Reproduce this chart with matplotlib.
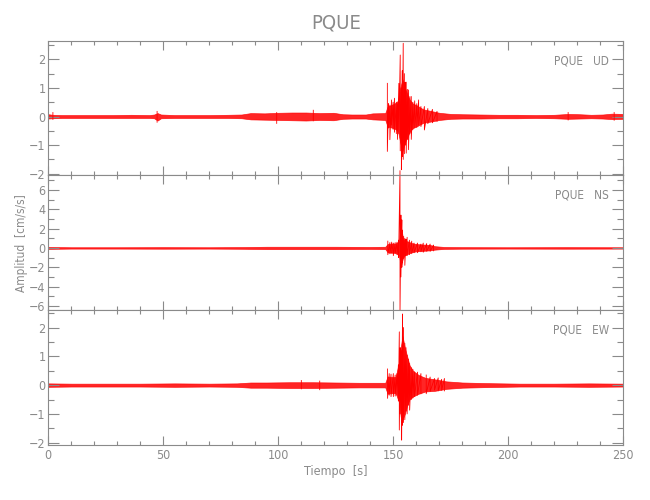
import matplotlib
matplotlib.use("Agg")
import matplotlib.pyplot as plt
from matplotlib import font_manager
from matplotlib.ticker import MultipleLocator

# narrow font if one is installed, to get close to the thin IDL lettering
narrow = [f for f in font_manager.fontManager.ttflist
          if ('Narrow' in f.fname or 'Condensed' in f.fname) and f.style == 'normal'
          and f.weight in (400, 'normal', 'regular')]
if narrow:
    plt.rcParams['font.family'] = [narrow[0].name, 'DejaVu Sans']
    plt.rcParams['font.stretch'] = narrow[0].stretch
    fs = 9
else:
    plt.rcParams['font.family'] = ['Liberation Sans', 'DejaVu Sans']
    fs = 8.5

"---------------------------------- DATA (read off the picture) ----------------------------------"
# envelope (body) of each trace: time [s], upper and lower amplitude [cm/s/s]
t_ud = [0, 2, 6, 12, 20, 28, 36, 44, 46, 47.5, 49, 55, 62, 70, 78, 84, 88, 94, 100, 106, 112, 118,
        124, 128, 132, 138, 141, 146.5, 147.5, 149, 150.5, 152, 153, 154, 155, 156, 157, 158.5, 160,
        163, 166, 170, 175, 180, 188, 196, 204, 212, 220, 226, 231, 236, 241, 245, 250]
hi_ud = [0.08, 0.06, 0.05, 0.05, 0.05, 0.05, 0.06, 0.05, 0.07, 0.12, 0.07, 0.05, 0.05, 0.05, 0.06,
         0.07, 0.12, 0.11, 0.13, 0.14, 0.14, 0.12, 0.13, 0.08, 0.07, 0.07, 0.11, 0.12, 0.35, 0.40,
         0.45, 0.55, 1.00, 1.30, 1.00, 0.80, 0.60, 0.45, 0.40, 0.25, 0.20, 0.13, 0.09, 0.08, 0.07,
         0.06, 0.06, 0.05, 0.06, 0.09, 0.08, 0.06, 0.07, 0.10, 0.09]
lo_ud = [-0.07, -0.06, -0.05, -0.05, -0.05, -0.05, -0.05, -0.05, -0.06, -0.14, -0.06, -0.05, -0.05,
         -0.05, -0.05, -0.06, -0.10, -0.11, -0.12, -0.13, -0.14, -0.12, -0.13, -0.08, -0.07, -0.07,
         -0.10, -0.12, -0.35, -0.38, -0.42, -0.50, -0.90, -1.20, -0.90, -0.75, -0.55, -0.40, -0.35,
         -0.22, -0.18, -0.12, -0.08, -0.07, -0.07, -0.06, -0.06, -0.05, -0.06, -0.08, -0.07, -0.06,
         -0.07, -0.09, -0.08]
# swings of the trace that stick out of the body: time, top, bottom
spk_t_ud = [2, 47.3, 99.3, 115.2,
            147.4, 147.9, 148.5, 149.2, 149.9, 150.5, 151.3, 151.8, 152.4, 153.0, 153.5, 153.9, 154.3,
            154.8, 155.2, 155.6, 156.1, 156.6, 157.2, 157.8, 158.5, 159.3, 160.2, 161, 162, 163.5,
            165, 167, 169,
            226, 246]
spk_hi_ud = [0.14, 0.18, 0.14, 0.22,
             1.16, 0.45, 0.40, 0.58, 0.50, 0.64, 0.50, 0.45, 1.16, 2.15, 1.00, 1.60, 2.56,
             1.50, 1.20, 1.20, 0.95, 0.93, 0.70, 0.70, 0.50, 0.55, 0.45, 0.58, 0.35, 0.35,
             0.28, 0.25, 0.18,
             0.14, 0.14]
spk_lo_ud = [-0.10, -0.20, -0.24, -0.15,
             -1.22, -0.40, -0.81, -0.30, -0.45, -0.55, -0.60, -0.80, -0.60, -1.20, -1.86, -1.40,
             -1.50, -1.30, -1.00, -1.28, -0.80, -1.16, -0.60, -0.80, -0.45, -0.40, -0.38, -0.30,
             -0.35, -0.47, -0.25, -0.22, -0.17,
             -0.12, -0.13]

t_ns = [0, 10, 30, 50, 70, 85, 95, 110, 125, 140, 146.5, 147.5, 149, 151, 152.5, 153, 153.5, 154.2,
        155, 156.5, 158, 160, 163, 166, 168, 172, 180, 200, 225, 250]
hi_ns = [0.10, 0.07, 0.07, 0.08, 0.07, 0.09, 0.12, 0.12, 0.12, 0.10, 0.12, 0.40, 0.45, 0.45, 0.70,
         1.80, 2.00, 1.00, 0.75, 0.65, 0.50, 0.40, 0.35, 0.30, 0.18, 0.10, 0.08, 0.07, 0.08, 0.07]
lo_ns = [-0.10, -0.07, -0.07, -0.08, -0.07, -0.09, -0.12, -0.12, -0.12, -0.10, -0.12, -0.45, -0.50,
         -0.50, -0.80, -1.50, -1.70, -1.00, -0.75, -0.60, -0.45, -0.35, -0.30, -0.25, -0.18, -0.10,
         -0.08, -0.07, -0.08, -0.07]
spk_t_ns = [147.6, 148.5, 149.3, 150, 150.8, 151.6, 152.3, 152.9, 153.3, 153.7, 154.0, 154.5, 155.0,
            155.5, 156, 157, 158, 159, 160.5, 162, 163, 164.5, 166, 167.5]
spk_hi_ns = [0.70, 0.55, 0.60, 0.50, 0.55, 0.60, 0.80, 8.00, 3.40, 2.90, 1.80, 1.20, 1.00,
             0.90, 1.10, 0.80, 0.70, 0.50, 0.50, 0.40, 0.50, 0.45, 0.40, 0.30]
spk_lo_ns = [-0.70, -0.60, -0.50, -0.80, -0.60, -0.70, -1.00, -6.90, -3.00, -2.00, -1.50, -1.10,
             -1.80, -0.80, -0.80, -0.70, -0.60, -0.50, -0.50, -0.40, -0.45, -0.35, -0.35, -0.30]

t_ew = [0, 10, 25, 40, 55, 70, 82, 88, 95, 105, 115, 125, 135, 142, 146.5, 147.5, 149, 151, 152.5,
        153.2, 154, 155, 156, 157, 158.5, 161, 164, 168, 173, 180, 190, 205, 220, 235, 250]
hi_ew = [0.06, 0.05, 0.05, 0.05, 0.06, 0.05, 0.06, 0.09, 0.09, 0.10, 0.10, 0.09, 0.08, 0.08, 0.08,
         0.30, 0.28, 0.28, 0.80, 1.30, 1.70, 1.30, 1.00, 0.70, 0.50, 0.35, 0.25, 0.20, 0.13, 0.09,
         0.07, 0.05, 0.05, 0.06, 0.05]
lo_ew = [-0.06, -0.05, -0.05, -0.05, -0.06, -0.05, -0.06, -0.09, -0.09, -0.10, -0.10, -0.09, -0.08,
         -0.08, -0.08, -0.30, -0.28, -0.28, -0.60, -1.10, -1.20, -1.00, -0.70, -0.50, -0.40, -0.30,
         -0.22, -0.20, -0.13, -0.09, -0.07, -0.05, -0.05, -0.06, -0.05]
spk_t_ew = [110, 118,
            147.5, 148.2, 149, 150, 150.8, 151.6, 152.2, 152.6, 153.0, 153.6, 154.0, 154.4, 155.0,
            155.5, 156.0, 156.6, 157.1, 157.8, 158.5, 159.2, 160.5, 162, 164.3, 166, 167.9, 169.5,
            171, 172.2]
spk_hi_ew = [0.16, 0.14,
             0.56, 0.40, 0.38, 0.40, 0.35, 0.40, 0.70, 1.85, 1.30, 1.20, 2.47, 2.00, 1.45,
             1.30, 1.04, 0.90, 0.75, 0.60, 0.55, 0.46, 0.45, 0.40, 0.35, 0.28, 0.23, 0.25,
             0.20, 0.23]
spk_lo_ew = [-0.13, -0.16,
             -0.46, -0.35, -0.40, -0.40, -0.38, -0.35, -0.55, -1.56, -1.00, -1.91, -1.40, -1.30,
             -1.20, -0.90, -1.00, -0.70, -0.87, -0.50, -0.45, -0.40, -0.35, -0.30, -0.30, -0.22,
             -0.17, -0.20, -0.18, -0.20]

channels = ['PQUE   UD', 'PQUE   NS', 'PQUE   EW']
ylims = [(-2.06, 2.65), (-6.45, 7.5), (-2.08, 2.6)]
y_major = [1, 2, 1]
y_minor = [0.5, 1, 0.5]

"------------------------------------------- PLOT -------------------------------------------"
gray = '#8a8a8a'
fig, axs = plt.subplots(3, 1, sharex=True, figsize=(6.5, 5), dpi=100)
fig.subplots_adjust(left=0.0743, right=0.959, top=0.9186, bottom=0.11, hspace=0)

traces = [(t_ud, hi_ud, lo_ud, spk_t_ud, spk_hi_ud, spk_lo_ud),
          (t_ns, hi_ns, lo_ns, spk_t_ns, spk_hi_ns, spk_lo_ns),
          (t_ew, hi_ew, lo_ew, spk_t_ew, spk_hi_ew, spk_lo_ew)]

for i, ax in enumerate(axs):
    t, hi, lo, st, shi, slo = traces[i]
    # body of the trace
    ax.fill_between(t, lo, hi, color='red', alpha=0.85, lw=0.5)
    # trace swings: up, down, on to the next one; a gap breaks the line
    xs, ys = [], []
    prev = None
    for tk, h, l in zip(st, shi, slo):
        if prev is not None and tk - prev > 2:
            xs.append(float('nan'))
            ys.append(float('nan'))
        xs += [tk, tk]
        ys += [h, l]
        prev = tk
    ax.plot(xs, ys, color='red', lw=0.6, clip_on=False)
    ax.set_ylim(ylims[i])
    ax.set_xlim(0, 250)
    ax.xaxis.set_major_locator(MultipleLocator(50))
    ax.xaxis.set_minor_locator(MultipleLocator(10))
    ax.yaxis.set_major_locator(MultipleLocator(y_major[i]))
    ax.yaxis.set_minor_locator(MultipleLocator(y_minor[i]))
    ax.tick_params(which='both', direction='in', top=True, right=True, color=gray,
                   labelcolor=gray, labelsize=fs, width=0.8)
    ax.tick_params(axis='x', which='major', length=6.3, pad=3)
    ax.tick_params(axis='x', which='minor', length=2.9)
    ax.tick_params(axis='y', which='major', length=7.7, pad=2)
    ax.tick_params(axis='y', which='minor', length=4.3)
    for s in ax.spines.values():
        s.set_color(gray)
        s.set_linewidth(0.8)
    ax.annotate(channels[i], xy=(1, 1), xycoords='axes fraction', xytext=(-10.3, -14.4),
                textcoords='offset points', ha='right', va='center', color=gray, fontsize=fs - 0.5)

fig.text(0.5165, 0.954, 'PQUE', ha='center', va='center', color=gray, fontsize=fs + 5.5)
fig.text(0.5165, 1 - 472 / 500, 'Tiempo  [s]', ha='center', va='center', color=gray, fontsize=fs)
fig.text(22 / 650, 1 - 243 / 500, 'Amplitud  [cm/s/s]', rotation=90, ha='center', va='center',
         color=gray, fontsize=fs - 0.5)

plt.savefig('out.png', dpi=100)
